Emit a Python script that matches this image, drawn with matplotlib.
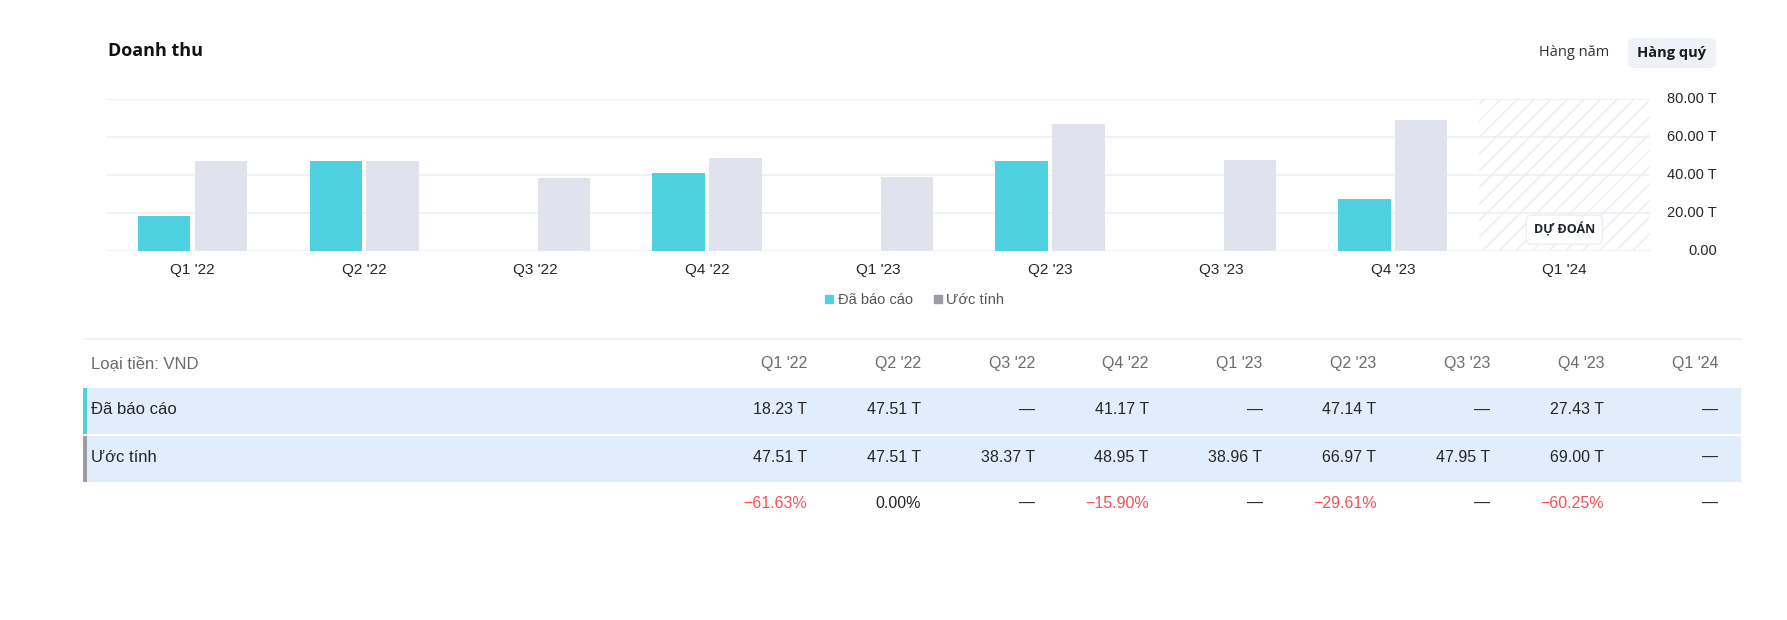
import matplotlib
matplotlib.use("Agg")
import matplotlib.pyplot as plt
from matplotlib.patches import Rectangle, FancyBboxPatch
from matplotlib.lines import Line2D

# ---------------- data ----------------
quarters = ["Q1 '22", "Q2 '22", "Q3 '22", "Q4 '22", "Q1 '23", "Q2 '23", "Q3 '23", "Q4 '23", "Q1 '24"]
reported = [18.23, 47.51, None, 41.17, None, 47.14, None, 27.43, None]
estimate = [47.51, 47.51, 38.37, 48.95, 38.96, 66.97, 47.95, 69.00, None]
surprise = ["\u221261.63%", "0.00%", "\u2014", "\u221215.90%", "\u2014", "\u221229.61%", "\u2014", "\u221260.25%", "\u2014"]
yticks = [0, 20, 40, 60, 80]
forecast_index = 8
series_names = ["\u0110\u00e3 b\u00e1o c\u00e1o", "\u01af\u1edbc t\u00ednh"]

# ---------------- style ----------------
W, H = 1787, 620
CYAN = "#4fd1e1"
GREY = "#e0e3ed"
GREY_MARK = "#9c9ca4"
GRID = "#eff0f4"
BAND = "#e2edfc"
DARK = "#262626"
MUTED = "#6b6b6b"
RED = "#f25257"
SANS = ["Liberation Sans", "DejaVu Sans"]
UI = ["Open Sans", "Noto Sans", "DejaVu Sans"]
plt.rcParams["hatch.linewidth"] = 1.0

def fx(x):
    return x / W

def fy(y):
    return 1 - y / H

fig = plt.figure(figsize=(W / 100, H / 100), dpi=100)
fig.patch.set_facecolor("white")

# ---------------- chart ----------------
ax_l, ax_r, ax_t, ax_b = 107, 1650, 99, 251
ax = fig.add_axes([fx(ax_l), fy(ax_b), fx(ax_r - ax_l), (ax_b - ax_t) / H])
ax.set_xlim(-0.5, len(quarters) - 0.5)
ax.set_ylim(0, 80)
for s in ax.spines.values():
    s.set_visible(False)
ax.set_yticks(yticks)
ax.yaxis.grid(True, color=GRID, linewidth=1.2)
ax.set_axisbelow(True)
ax.tick_params(axis="y", length=0, labelleft=False)
ax.set_xticks(range(len(quarters)))
ax.set_xticklabels(quarters, family=SANS, fontsize=11, color=DARK)
ax.tick_params(axis="x", length=0, pad=9)

bw = 0.305
off = 0.166
xs = list(range(len(quarters)))
rx = [x - off for x, v in zip(xs, reported) if v is not None]
rv = [v for v in reported if v is not None]
ex = [x + off for x, v in zip(xs, estimate) if v is not None]
ev = [v for v in estimate if v is not None]
ax.bar(rx, rv, width=bw, color=CYAN, zorder=3)
ax.bar(ex, ev, width=bw, color=GREY, zorder=3)

# forecast hatched region
ax.axvspan(forecast_index - 0.5, forecast_index + 0.5, facecolor="none",
           edgecolor="#eaedf4", hatch="//", linewidth=0, zorder=1)
ax.text(forecast_index, 11.2, "D\u1ef0 \u0110O\u00c1N", ha="center", va="center",
        fontsize=9, fontweight="bold", family=UI, color="#1f2430", zorder=5,
        bbox=dict(boxstyle="round,pad=0.6,rounding_size=0.45", fc="white", ec="#eceef3", lw=1))

# right-side y labels
for v in yticks:
    lab = f"{v:.2f} T" if v else "0.00"
    ax.text((1717 - ax_l) / (ax_r - ax_l), v, lab, transform=ax.get_yaxis_transform(),
            ha="right", va="center", fontsize=10.5, family=SANS, color=DARK)

# legend
handles = [Line2D([], [], marker="s", linestyle="none", markersize=5.5, color=CYAN),
           Line2D([], [], marker="s", linestyle="none", markersize=5.5, color=GREY_MARK)]
leg = fig.legend(handles, series_names, loc="center", bbox_to_anchor=(fx(913), fy(300)),
                 ncol=2, frameon=False, handletextpad=0.1, columnspacing=1.2,
                 handlelength=1.0, prop={"family": SANS, "size": 10.5})
for t in leg.get_texts():
    t.set_color("#555555")

# title & toggle
fig.text(fx(108), fy(51), "Doanh thu", fontsize=13, fontweight="bold", family=UI,
         color="#111111", ha="left", va="center")
fig.text(fx(1574), fy(53), "H\u00e0ng n\u0103m", fontsize=10.5, family=UI,
         color="#333333", ha="center", va="center")
btn = FancyBboxPatch((fx(1628), fy(68)), fx(88), 30 / H,
                     boxstyle="round,pad=0,rounding_size=0.006", transform=fig.transFigure,
                     fc="#eef1f8", ec="none")
fig.add_artist(btn)
fig.text(fx(1672), fy(53), "H\u00e0ng qu\u00fd", fontsize=10.5, fontweight="bold", family=UI,
         color="#1a1a1a", ha="center", va="center")

# ---------------- table ----------------
fig.add_artist(Line2D([fx(85), fx(1741)], [fy(338.5), fy(338.5)], transform=fig.transFigure,
                      color="#eef0f4", linewidth=1.5))
col_right = [807 + 113.9 * i for i in range(len(quarters))]
row_y = {"head": 364, "r1": 410, "r2": 457, "pct": 503}
TFS = 12
NFS = 11.5

fig.text(fx(91), fy(row_y["head"]), "Lo\u1ea1i ti\u1ec1n: VND", fontsize=TFS, family=SANS,
         color=MUTED, ha="left", va="center")
for x, q in zip(col_right, quarters):
    fig.text(fx(x), fy(row_y["head"]), q, fontsize=NFS, family=SANS, color=MUTED,
             ha="right", va="center")

bands = [(387.5, 433.5, CYAN, "r1", reported, series_names[0]),
         (435.5, 481.5, GREY_MARK, "r2", estimate, series_names[1])]
for top, bot, acc, key, vals, name in bands:
    fig.add_artist(Rectangle((fx(83), fy(bot)), fx(1741 - 83), (bot - top) / H,
                             transform=fig.transFigure, fc=BAND, ec="none"))
    fig.add_artist(Rectangle((fx(83), fy(bot)), fx(4), (bot - top) / H,
                             transform=fig.transFigure, fc=acc, ec="none"))
    fig.text(fx(91), fy(row_y[key]), name, fontsize=TFS, family=SANS, color=DARK,
             ha="left", va="center")
    for x, v in zip(col_right, vals):
        s = f"{v:.2f} T" if v is not None else "\u2014"
        fig.text(fx(x), fy(row_y[key]), s, fontsize=NFS, family=SANS, color=DARK,
                 ha="right", va="center")

for x, s in zip(col_right, surprise):
    c = RED if s.startswith("\u2212") else DARK
    fig.text(fx(x), fy(row_y["pct"]), s, fontsize=NFS, family=SANS, color=c,
             ha="right", va="center")

fig.savefig("out.png", dpi=100, facecolor="white")
